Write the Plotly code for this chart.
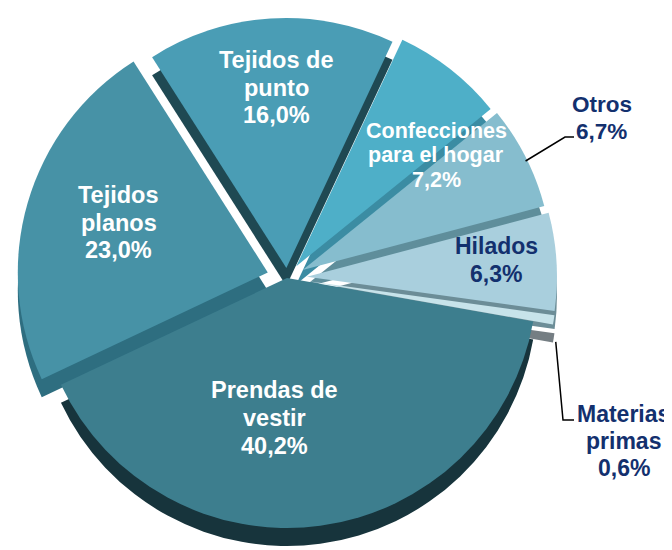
import math
import plotly.graph_objects as go

labels = ["Prendas de vestir", "Tejidos planos", "Tejidos de punto",
          "Confecciones para el hogar", "Otros", "Hilados", "Materias primas"]
values = [40.2, 23.0, 16.0, 7.2, 6.7, 6.3, 0.6]
label_text = ["Prendas de<br>vestir<br>40,2%", "Tejidos<br>planos<br>23,0%",
              "Tejidos de<br>punto<br>16,0%", "Confecciones<br>para el hogar<br>7,2%",
              "Otros<br>6,7%", "Hilados<br>6,3%", "Materias<br>primas<br>0,6%"]
top_colors = ["#3D7E8E", "#4792A6", "#4A9DB5", "#4EAFC8", "#86BDCE", "#A9CFDD", "#C7E3EA"]
side_colors = ["#17343C", "#2E6E80", "#1F4953", "#3B8CA3", "#5F8E9B", "#6C8D97", "#757E83"]
pulls = [0, 0.08, 0.04, 0.06, 0.07, 0.08, 0.08]

W, H = 672, 560
OFF = 8            # page body margin: figure origin sits at (8, 8) in the window
NAVY = "#13306E"
rotation = 100
CX, CY, R, DEPTH = 287, 278, 250, 18   # desired top-face geometry in window pixels

fx, fy = CX - OFF, CY - OFF
box = 2 * R * (1 + max(pulls))
dom_x = [(fx - box / 2 - 6) / W, (fx + box / 2 + 6) / W]
top_y = [1 - (fy + box / 2) / H, 1 - (fy - box / 2) / H]
side_y = [1 - (fy + DEPTH + box / 2) / H, 1 - (fy + DEPTH - box / 2) / H]

fig = go.Figure()
fig.add_trace(go.Pie(values=values, labels=labels, sort=False, direction="clockwise",
                     rotation=rotation, pull=pulls, textinfo="none", hoverinfo="skip",
                     marker=dict(colors=side_colors, line=dict(width=0)),
                     domain=dict(x=dom_x, y=side_y), showlegend=False))
fig.add_trace(go.Pie(values=values, labels=labels, sort=False, direction="clockwise",
                     rotation=rotation, pull=pulls, textinfo="none",
                     hovertemplate="%{label}: %{value:.1f}%<extra></extra>",
                     marker=dict(colors=top_colors, line=dict(width=0)),
                     domain=dict(x=dom_x, y=top_y), showlegend=False))


def to_paper(px, py):
    return (px - OFF) / W, 1 - (py - OFF) / H


# label placement: centre x, centre y of first line, line gap (window pixels)
label_pos = [(274, 390, 27.75), (118.5, 195, 27.5), (276, 60, 27.5), (436, 130.5, 24.75),
             (601.5, 104, 27), (496, 246.5, 27), (623.5, 414, 27)]
label_col = ["white", "white", "white", "white", NAVY, NAVY, NAVY]
label_size = [23.5, 23.5, 23.5, 21.5, 22.5, 23, 23]
for txt, (px, py, gap), col, sz in zip(label_text, label_pos, label_col, label_size):
    for k, line in enumerate(txt.split("<br>")):
        x, y = to_paper(px, py + k * gap)
        fig.add_annotation(text="<b>" + line + "</b>", x=x, y=y,
                           xref="paper", yref="paper", showarrow=False,
                           font=dict(family="Liberation Sans, Arial", size=sz, color=col),
                           align="center", xanchor="center", yanchor="middle")

total = sum(values)


def edge_point(i):
    before = sum(values[:i])
    a = math.radians(90 - rotation - 360 * (before + values[i] / 2) / total)
    rr = R * (1 + pulls[i])
    return CX + rr * math.cos(a), CY - rr * math.sin(a)


def path(points):
    s = ""
    for k, (px, py) in enumerate(points):
        x, y = to_paper(px, py)
        s += ("M" if k == 0 else "L") + f" {x:.4f} {y:.4f} "
    return s.strip()

ox, oy = edge_point(4)
fig.add_shape(type="path", xref="paper", yref="paper",
              path=path([(ox, oy + 4), (565, 137), (574, 137)]),
              line=dict(color="black", width=1.5))
mx, my = edge_point(6)
fig.add_shape(type="path", xref="paper", yref="paper",
              path=path([(mx + 2, my + DEPTH + 4), (563, 420), (574, 420)]),
              line=dict(color="black", width=1.5))

fig.update_layout(width=W, height=H, margin=dict(l=0, r=0, t=0, b=0),
                  paper_bgcolor="white", plot_bgcolor="white")
fig.write_html("out.html")
